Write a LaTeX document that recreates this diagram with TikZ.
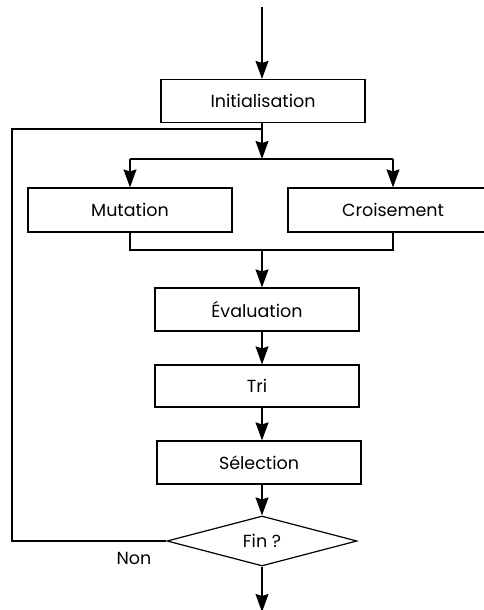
\documentclass[tikz,border=0pt]{standalone}
\usepackage{fontspec}
\setmainfont{Poppins}
\usetikzlibrary{shapes.geometric,arrows.meta}
\begin{document}
\begin{tikzpicture}[x=1pt,y=-1pt,
  font=\fontsize{17.5}{20}\selectfont,
  line width=1.2pt,
  flow/.style={-{Stealth[length=18pt,width=13pt,inset=2pt]}},
  stepbox/.style={draw,rectangle,minimum width=204pt,minimum height=43pt,inner sep=0pt},
  test/.style={draw,diamond,minimum width=190pt,minimum height=50pt,inner sep=0pt,aspect=3.8}]
\useasboundingbox (0,0) rectangle (484,610);

% process boxes
\node[stepbox] (init) at (263,101) {Initialisation};
\node[stepbox,minimum height=44pt] (mut) at (130,210) {Mutation};
\node[stepbox,minimum width=210pt,minimum height=44pt] (cro) at (393,210) {Croisement};
\node[stepbox] (eval) at (257,309.5) {Évaluation};
\node[stepbox,minimum height=42pt] (tri) at (257,386) {Tri};
\node[stepbox] (sel) at (259,462.5) {Sélection};
\node[test] (fin) at (262,541) {Fin ?};
\node (non) at (134,558) {Non};

% junction points
\coordinate (start) at (262,7);
\coordinate (split) at (262,159);
\coordinate (sl) at (130,159);
\coordinate (sr) at (393,159);
\coordinate (join) at (262,250);
\coordinate (jl) at (130,250);
\coordinate (jr) at (393,250);
\coordinate (loop) at (262,129);
\coordinate (lb) at (12,541);
\coordinate (lt) at (12,129);
\coordinate (out) at (262,612);

% main flow
\draw[flow] (start) -- (init.north -| start);
\draw[flow] (init.south -| split) -- (split);
\draw (sl) -- (sr);
\draw[flow] (sl) -- (mut.north);
\draw[flow] (sr) -- (cro.north);
\draw (mut.south) -- (jl) -- (jr) -- (cro.south);
\draw[flow] (join) -- (eval.north -| join);
\draw[flow] (eval.south -| join) -- (tri.north -| join);
\draw[flow] (tri.south -| join) -- (sel.north -| join);
\draw[flow] (sel.south -| join) -- (fin.north);
\draw[flow] (fin.south) -- (out);

% loop back
\draw (fin.west) -- (lb) -- (lt) -- (loop);
\end{tikzpicture}
\end{document}
